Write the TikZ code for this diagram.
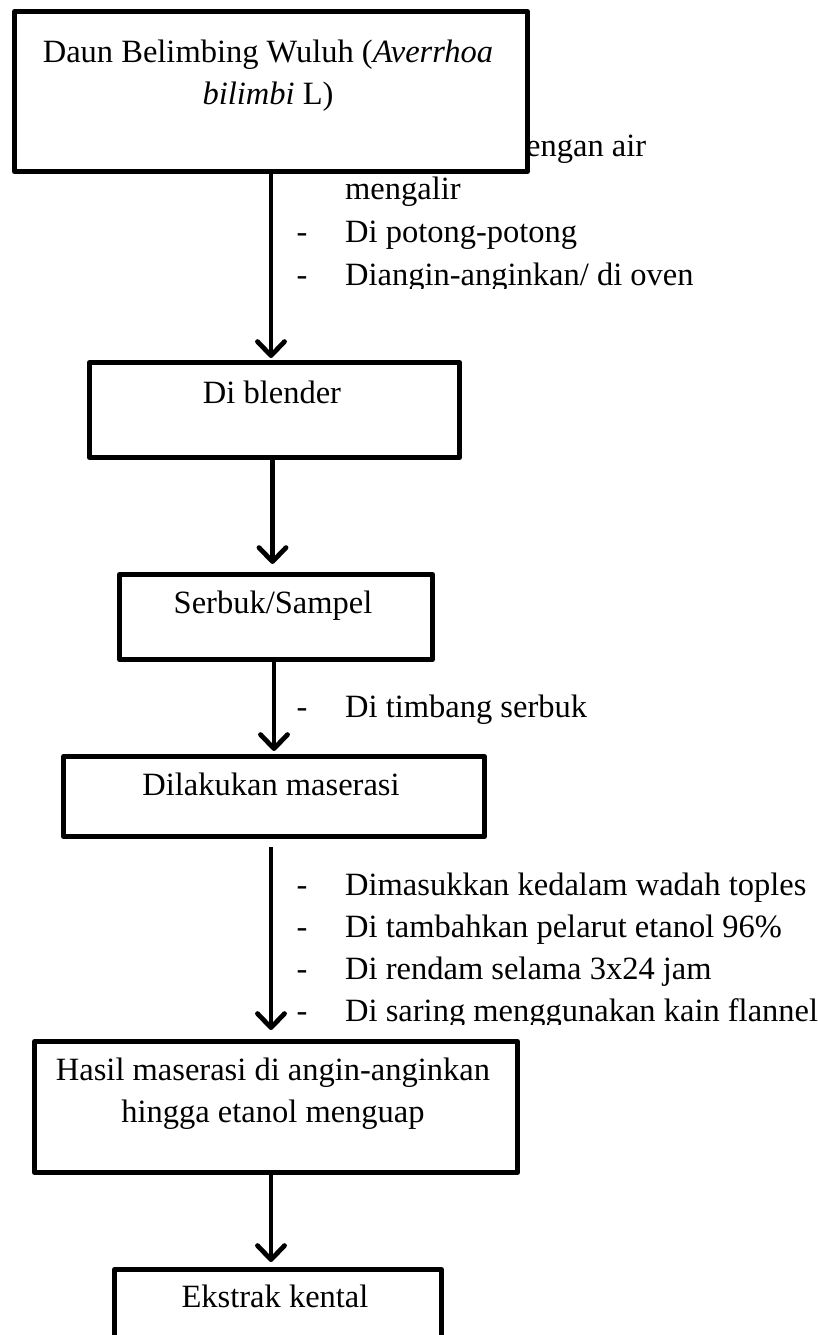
\documentclass[tikz,border=0pt]{standalone}
\usepackage{fontspec}
\setmainfont{Liberation Serif}
\usetikzlibrary{arrows.meta}

\begin{document}
\begin{tikzpicture}[x=1pt,y=-1pt,
  stepbox/.style={draw, line width=5pt, fill=white, line join=round, inner sep=0pt, anchor=north west},
  flow/.style={line width=4.8pt, -{Straight Barb[length=14pt,width=27pt,line cap=round,line join=round]}},
  txt/.style={font=\fontsize{32.5}{42}\selectfont, inner sep=0pt},
  line/.style={txt, anchor=base west},
  bullet/.style={txt, anchor=base},
]
\clip (0,0) rectangle (817,1335);
\fill[white] (0,0) rectangle (817,1335);

% notes beside the first arrow (partly hidden by the first box)
\begin{scope}
  \clip (290,110) rectangle (817,288);
  \node[line] (n1) at (526,157) {engan air};
  \node[line] (n2) at (345,199) {mengalir};
  \node[bullet] (d3) at (302,242) {-};
  \node[line] (n3) at (345,242) {Di potong-potong};
  \node[bullet] (d4) at (302,285) {-};
  \node[line] (n4) at (345,285) {Diangin-anginkan/ di oven};
\end{scope}

% note beside the third arrow
\node[bullet] (d5) at (302,717) {-};
\node[line] (n5) at (345,717) {Di timbang serbuk};

% notes beside the fourth arrow
\begin{scope}
  \clip (290,850) rectangle (817,1024);
  \node[bullet] (d6) at (302,895) {-};
  \node[line] (n6) at (345,895) {Dimasukkan kedalam wadah toples};
  \node[bullet] (d7) at (302,937) {-};
  \node[line] (n7) at (345,937) {Di tambahkan pelarut etanol 96\%};
  \node[bullet] (d8) at (302,979) {-};
  \node[line] (n8) at (345,979) {Di rendam selama 3x24 jam};
  \node[bullet] (d9) at (302,1021) {-};
  \node[line] (n9) at (345,1021) {Di saring menggunakan kain flannel};
\end{scope}

% process boxes
\node[stepbox, minimum width=513pt, minimum height=160pt] (b1) at (12,9) {};
\node[stepbox, minimum width=370pt, minimum height=95pt] (b2) at (87,360) {};
\node[stepbox, minimum width=313pt, minimum height=85pt] (b3) at (117,572) {};
\node[stepbox, minimum width=421pt, minimum height=80pt] (b4) at (61,754) {};
\node[stepbox, minimum width=483pt, minimum height=131pt] (b5) at (32,1039) {};
\node[stepbox, minimum width=327pt, minimum height=130pt] (b6) at (112,1267) {};

% box texts
\node[bullet] (t1a) at (268,63) {Daun Belimbing Wuluh (\textit{Averrhoa}};
\node[bullet] (t1b) at (268,105) {\textit{bilimbi} L)};
\node[bullet] (t2) at (272,403) {Di blender};
\node[bullet] (t3) at (273,613) {Serbuk/Sampel};
\node[bullet] (t4) at (271,795) {Dilakukan maserasi};
\node[bullet] (t5a) at (273,1080) {Hasil maserasi di angin-anginkan};
\node[bullet] (t5b) at (273,1122) {hingga etanol menguap};
\node[bullet] (t6) at (275,1307) {Ekstrak kental};

% arrows
\draw[flow, shorten >=2pt] (b1.south) -- (b1.south |- b2.north);
\draw[flow, shorten >=8pt] ([xshift=-2pt]b2.south) -- ([xshift=-2pt]b2.south |- b3.north);
\draw[flow, shorten >=3pt] ([xshift=-2pt]b3.south) -- ([xshift=-2pt]b3.south |- b4.north);
\draw[flow, shorten >=9pt] ([xshift=-3pt,yshift=-8pt]b4.south) -- ([xshift=-3pt]b4.south |- b5.north);
\draw[flow, shorten >=5pt] ([xshift=-5pt]b5.south) -- ([xshift=-5pt]b5.south |- b6.north);
\end{tikzpicture}
\end{document}
